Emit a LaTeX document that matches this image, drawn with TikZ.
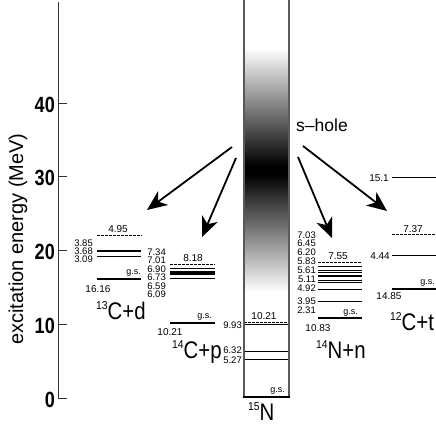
\documentclass[tikz,border=0pt]{standalone}
\usepackage{fontspec}
\setmainfont{Liberation Sans}
\usetikzlibrary{arrows.meta}

% pixel height of an energy (MeV)
\newcommand{\ey}[1]{398-7.37*(#1)}
\newcommand{\nuc}[2]{{\fontsize{11.5}{12}\selectfont\raisebox{10pt}{\scalebox{0.9}[1]{#1}}}\scalebox{0.85}[1]{#2}}

\begin{document}
\begin{tikzpicture}[
  x = 1pt, y = -1pt,
  axisline/.style = {line width = 0.9pt, black!80},
  frame/.style = {line width = 1.1pt, black!65},
  lvl/.style = {line width = 0.7pt},
  gslvl/.style = {line width = 2pt},
  openlvl/.style = {line width = 0.7pt, dash pattern = on 2.5pt off 1.5pt},
  num/.style = {font = \fontsize{10}{10}\selectfont, inner sep = 0pt},
  stack/.style = {font = \fontsize{9.5}{9.5}\selectfont, inner sep = 0pt, anchor = east},
  gslbl/.style = {font = \fontsize{9}{9}\selectfont, inner sep = 0pt, anchor = south east},
  ticklbl/.style = {font = \fontsize{22}{22}\selectfont\bfseries, inner sep = 0pt, anchor = east},
  nucl/.style = {font = \fontsize{24}{24}\selectfont, inner sep = 0pt, anchor = base west},
  decay/.style = {line width = 1.8pt, -{Stealth[length = 20pt, width = 17pt, inset = 6pt]}},
  ]
  \useasboundingbox (0,0) rectangle (436,425);

  % axis
  \draw[axisline] (58,2) -- (58,398) -- (67,398);
  \foreach \e in {10,20,30,40}
    \draw[axisline] (58,{\ey{\e}}) -- ++(9,0);
  \foreach \e in {0,10,...,40}
    \node[ticklbl] (tick\e) at (55,{\ey{\e}+1.5}) {\scalebox{0.82}[1]{\e}};
  \node[rotate = 90, font = \fontsize{20}{20}\selectfont] (ylabel) at (18,239) {excitation energy (MeV)};

  % 15N
  \shade[top color = white, bottom color = black] (244,48) rectangle (289,166);
  \fill[black] (244,166) rectangle (289,174);
  \shade[top color = black, bottom color = white] (244,174) rectangle (289,292);
  \draw[openlvl] (244,{\ey{10.21}}) -- ++(45,0);
  \foreach \e in {9.93,6.32,5.27}
    \draw[lvl] (244,{\ey{\e}}) -- ++(45,0);
  \draw[frame] (244,0) -- (244,397) (289,0) -- (289,397);
  \draw[gslvl] (243,397) -- (290,397);
  \node[num] (nu) at (264,316) {10.21};
  \foreach \lab/\y [count=\i] in {9.93/325,6.32/350,5.27/360}
    \node[stack] (nl\i) at (242,\y) {\lab};
  \node[gslbl] (ngs) at (285,395) {g.s.};
  \node[nucl] (n15) at (248,420) {\nuc{15}{N}};

  % 13C+d
  \draw[gslvl] (97,{\ey{16.16}}) -- ++(44,0);
  \foreach \e in {3.09,3.68,3.85}
    \draw[lvl] (97,{\ey{16.16+\e}}) -- ++(44,0);
  \draw[openlvl] (97,235) -- ++(45,0);
  \foreach \lab/\y [count=\i] in {3.85/243.5,3.68/251.5,3.09/259.5}
    \node[stack] (cdl\i) at (93,\y) {\lab};
  \node[num] (cdu) at (118,229) {4.95};
  \node[gslbl] (cdgs) at (141,{\ey{16.16}-2}) {g.s.};
  \node[num] (cdth) at (98,289) {16.16};
  \node[nucl] (cd) at (96,319) {\nuc{13}{C+d}};

  % 14C+p
  \draw[gslvl] (170,{\ey{10.21}}) -- ++(45,0);
  \foreach \e in {6.09,6.59,6.73,6.90,7.01,7.34}
    \draw[lvl] (170,{\ey{10.21+\e}}) -- ++(45,0);
  \draw[openlvl] (170,264) -- ++(45,0);
  \foreach \lab/\y [count=\i] in {7.34/252.5,7.01/260.5,6.90/269,6.73/277.5,6.59/286,6.09/294.5}
    \node[stack] (cpl\i) at (166,\y) {\lab};
  \node[num] (cpu) at (193,258) {8.18};
  \node[gslbl] (cpgs) at (212,{\ey{10.21}-2}) {g.s.};
  \node[num] (cpth) at (170,332) {10.21};
  \node[nucl] (cp) at (172,358) {\nuc{14}{C+p}};

  % 14N+n
  \draw[gslvl] (318,{\ey{10.83}}) -- ++(44,0);
  \foreach \e in {2.31,3.95,4.92,5.11,5.61,5.83,6.20,6.45,7.03}
    \draw[lvl] (318,{\ey{10.83+\e}}) -- ++(44,0);
  \draw[openlvl] (318,{\ey{10.83+7.55}}) -- ++(44,0);
  \foreach \lab/\y [count=\i] in {7.03/235,6.45/243.5,6.20/252.5,5.83/261.5,5.61/270,5.11/279.5,4.92/288.5,3.95/301,2.31/310}
    \node[stack] (nnl\i) at (316,\y) {\lab};
  \node[num] (nnu) at (338,256.5) {7.55};
  \node[gslbl] (nngs) at (358,{\ey{10.83}-2}) {g.s.};
  \node[num] (nnth) at (318,328) {10.83};
  \node[nucl] (nn) at (316,358) {\nuc{14}{N+n}};

  % 12C+t
  \draw[gslvl] (392,{\ey{14.85}}) -- ++(44,0);
  \foreach \e in {4.44,15.1}
    \draw[lvl] (392,{\ey{14.85+\e}}) -- ++(44,0);
  \draw[openlvl] (392,{\ey{14.85+7.37}}) -- ++(44,0);
  \node[num, anchor = east] (ctl1) at (389,178) {15.1};
  \node[num, anchor = east] (ctl2) at (390,256) {4.44};
  \node[num] (ctu) at (413,229) {7.37};
  \node[gslbl] (ctgs) at (435,{\ey{14.85}-2}) {g.s.};
  \node[num] (ctth) at (389,296) {14.85};
  \node[nucl] (ct) at (390,330) {\nuc{12}{C+t}};

  % s-hole decays
  \node[font = \fontsize{17.5}{18}\selectfont, anchor = west, inner sep = 0pt] (shole) at (296,125) {s--hole};
  \coordinate (from1) at (232,147); \coordinate (to1) at (147,210);
  \coordinate (from2) at (236,158); \coordinate (to2) at (202,237);
  \coordinate (from3) at (298,157); \coordinate (to3) at (332,238);
  \coordinate (from4) at (303,146); \coordinate (to4) at (387,211);
  \foreach \i in {1,...,4}
    \draw[decay] (from\i) -- (to\i);
\end{tikzpicture}
\end{document}
